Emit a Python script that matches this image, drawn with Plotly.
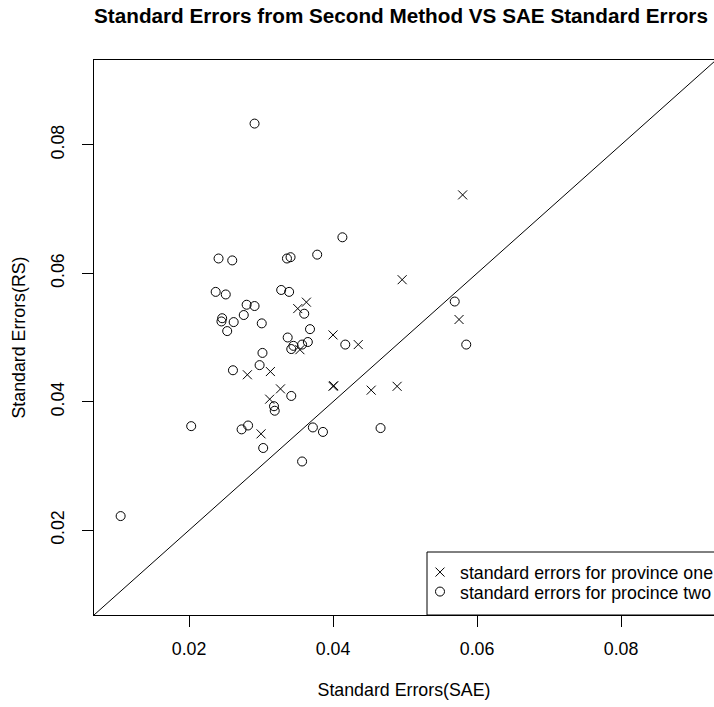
import plotly.graph_objects as go

# Province one (crosses): SAE standard errors vs RS standard errors
sae_one = [0.0580, 0.0496, 0.0575, 0.0351, 0.0363, 0.0400, 0.0435, 0.0354, 0.0281,
           0.0313, 0.0327, 0.0312, 0.0401, 0.0400, 0.0453, 0.0489, 0.0300]
rs_one = [0.0722, 0.0590, 0.0528, 0.0545, 0.0555, 0.0504, 0.0489, 0.0481, 0.0442,
          0.0447, 0.0420, 0.0404, 0.0425, 0.0424, 0.0418, 0.0424, 0.0350]

# Province two (circles)
sae_two = [0.0291, 0.0413, 0.0241, 0.0260, 0.0336, 0.0341, 0.0378, 0.0237, 0.0251,
           0.0328, 0.0339, 0.0280, 0.0291, 0.0360, 0.0276, 0.0246, 0.0245, 0.0262,
           0.0301, 0.0253, 0.0368, 0.0337, 0.0417, 0.0342, 0.0345, 0.0357, 0.0365,
           0.0302, 0.0261, 0.0298, 0.0342, 0.0318, 0.0319, 0.0203, 0.0273, 0.0282,
           0.0303, 0.0372, 0.0386, 0.0466, 0.0357, 0.0105, 0.0569, 0.0585]
rs_two = [0.0833, 0.0656, 0.0623, 0.0620, 0.0623, 0.0625, 0.0629, 0.0571, 0.0567,
          0.0574, 0.0571, 0.0551, 0.0549, 0.0537, 0.0535, 0.0530, 0.0525, 0.0524,
          0.0522, 0.0510, 0.0513, 0.0500, 0.0489, 0.0482, 0.0487, 0.0489, 0.0493,
          0.0476, 0.0449, 0.0457, 0.0409, 0.0393, 0.0386, 0.0362, 0.0357, 0.0363,
          0.0328, 0.0360, 0.0353, 0.0359, 0.0307, 0.0222, 0.0556, 0.0489]

# identity reference line (abline 0,1)
ref_line = [0.0, 0.1]

tick_vals = [0.02, 0.04, 0.06, 0.08]
tick_text = ["0.02", "0.04", "0.06", "0.08"]

label_one = "standard errors for province one"
label_two = "standard errors for procince two"
title_text = "Standard Errors from Second Method VS SAE Standard Errors"
x_title = "Standard Errors(SAE)"
y_title = "Standard Errors(RS)"

FONT = "Liberation Sans, Arial, Helvetica, sans-serif"
W, H = 714, 707
PL, PT, PB, PR = 94, 60, 615, 714  # plot area in pixels
px_per_unit_x = 7200.0
x0 = 0.0068
xrange_ = [x0, x0 + (PR - PL) / px_per_unit_x]
yrange_ = [0.0068, 0.0932]
pw, ph = PR - PL, PB - PT


def paper_x(px):
    return (px - PL) / pw


def paper_y(py):
    return (PB - py) / ph


fig = go.Figure()

fig.add_trace(go.Scatter(
    x=ref_line, y=ref_line, mode="lines",
    line=dict(color="black", width=1), showlegend=False, hoverinfo="skip"))

fig.add_trace(go.Scatter(
    x=sae_one, y=rs_one, mode="markers", name=label_one,
    marker=dict(symbol="x-thin-open", size=9, color="black",
                line=dict(color="black", width=1)),
    legend="legend"))

fig.add_trace(go.Scatter(
    x=sae_two, y=rs_two, mode="markers", name=label_two,
    marker=dict(symbol="circle-open", size=9, color="black",
                line=dict(color="black", width=1)),
    legend="legend2"))

axis_font = dict(family=FONT, size=17.8, color="black")

fig.update_layout(
    width=W, height=H,
    margin=dict(l=PL, t=PT, b=H - PB, r=W - PR, pad=0, autoexpand=False),
    paper_bgcolor="white", plot_bgcolor="white",
    font=axis_font,
    title=dict(text=title_text, x=401 / W, xref="container", xanchor="center",
               y=1 - 16 / H, yref="container", yanchor="middle",
               font=dict(family=FONT, size=20.7, color="black", weight="bold")),
    xaxis=dict(range=xrange_, tickvals=tick_vals, ticktext=tick_text,
               showgrid=False, zeroline=False, showline=True, linecolor="black",
               linewidth=1, mirror=True, ticks="outside", ticklen=11,
               tickcolor="black", tickwidth=1, tickfont=axis_font,
               ticklabelstandoff=7, automargin=False,
               title=dict(text=x_title, font=axis_font, standoff=25)),
    yaxis=dict(range=yrange_, tickvals=tick_vals, ticktext=tick_text,
               showgrid=False, zeroline=False, showline=True, linecolor="black",
               linewidth=1, mirror=False, ticks="outside", ticklen=11,
               tickcolor="black", tickwidth=1, tickfont=axis_font, tickangle=-90,
               ticklabelstandoff=11, automargin=False,
               title=dict(text=y_title, font=axis_font, standoff=17)),
    legend=dict(x=paper_x(420), y=paper_y(572.5), xanchor="left", yanchor="middle",
                bgcolor="rgba(0,0,0,0)", borderwidth=0, font=axis_font),
    legend2=dict(x=paper_x(420), y=paper_y(592), xanchor="left", yanchor="middle",
                 bgcolor="rgba(0,0,0,0)", borderwidth=0, font=axis_font),
    shapes=[dict(type="rect", xref="paper", yref="paper",
                 x0=paper_x(427), x1=1.2, y0=0, y1=paper_y(552),
                 line=dict(color="black", width=1), fillcolor="rgba(0,0,0,0)",
                 layer="above")],
)

fig.write_html("out.html")
